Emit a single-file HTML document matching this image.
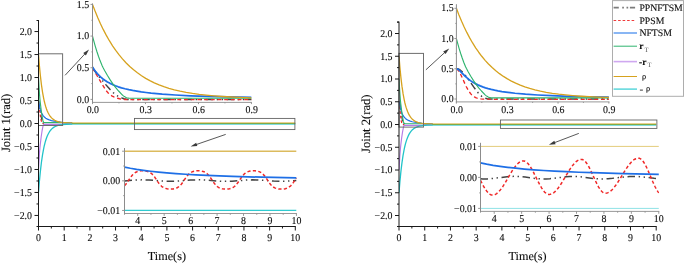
<!DOCTYPE html>
<html><head><meta charset="utf-8"><title>Joint tracking errors</title>
<style>
html,body{margin:0;padding:0;background:#fff;}
body{width:685px;height:263px;overflow:hidden;font-family:"Liberation Serif",serif;}
svg{display:block;}
svg text{font-family:"Liberation Serif",serif;fill:#0d0d0d;stroke:#0d0d0d;stroke-width:0.12px;text-rendering:geometricPrecision;filter:grayscale(1);}
</style></head><body>
<svg width="685" height="263" viewBox="0 0 685 263">
<defs><clipPath id="c0"><rect x="38.5" y="20.5" width="257.4" height="206"/></clipPath>
<clipPath id="c1"><rect x="92.5" y="2.4" width="159.2" height="100"/></clipPath>
<clipPath id="c2"><rect x="124.5" y="147" width="172.2" height="66.5"/></clipPath>
<clipPath id="c3"><rect x="399" y="22.1" width="257.8" height="204.4"/></clipPath>
<clipPath id="c4"><rect x="456.4" y="3.2" width="152.9" height="98.7"/></clipPath>
<clipPath id="c5"><rect x="480.5" y="141.8" width="178.6" height="69.6"/></clipPath></defs>
<g clip-path="url(#c0)" fill="none" stroke-linejoin="round">
<path d="M38.5,100.51L39.41,106.87L40.84,115.12L41.7,119.4L42.24,121.27L42.81,122.57L43.07,122.99L43.44,123.41L43.58,123.49L43.87,123.5" stroke="#444444" stroke-width="1.2" stroke-dasharray="5.25 2.52 0.98 2.52 0.98 2.52"/>
<path d="M38.5,100.51L40.33,115.95L40.59,117.72L41.01,119.92L41.53,121.53L41.84,122.17L42.24,122.79L42.67,123.23L43.07,123.53L43.87,123.63" stroke="#f02828" stroke-width="1.2" stroke-dasharray="2.73 1.96"/>
<path d="M38.5,99.96L39.01,103.68L39.61,106.91L40.3,109.64L41.1,111.98L42.01,113.93L43.1,115.62L44.33,116.99L45.78,118.17L47.41,119.12L49.3,119.91L51.5,120.57L54.07,121.12L56.38,121.49L59.04,121.81L59.07,121.87L60.61,122.18L63.27,122.53L67.07,122.8L72.21,122.95" stroke="#1e6fe6" stroke-width="1.2"/>
<path d="M38.5,77.53L39.41,92.85L39.9,99.02L40.33,103.18L41.19,110.21L42.01,115.79L42.93,120.67L43.27,121.81L43.56,122.45L43.84,122.64L44.56,122.67L61.41,122.69L63.69,122.84L69.35,123.4L72.21,123.5" stroke="#2fb46e" stroke-width="1.15"/>
<path d="M38.5,169.47L39.41,154.15L39.9,147.98L40.33,143.82L41.19,136.79L42.01,131.21L42.93,126.33L43.27,125.19L43.56,124.55L43.84,124.36L44.56,124.33L61.41,124.31L63.69,124.16L69.35,123.6L72.21,123.5" stroke="#b57be6" stroke-width="1.15"/>
<path d="M38.5,54.54L39.41,65.87L40.39,75.86L41.44,84.76L42.56,92.33L43.76,98.82L44.41,101.77L45.07,104.36L45.76,106.73L46.5,108.96L47.27,110.95L48.1,112.78L48.9,114.28L49.73,115.61L50.61,116.8L51.55,117.86L52.55,118.79L53.64,119.61L54.78,120.31L56.04,120.91L57.35,121.4L58.78,121.8L60.35,122.13L62.12,122.4L66.49,122.77L72.21,122.95" stroke="#d6a21e" stroke-width="1.3"/>
<path d="M38.5,192.46L39.41,181.13L40.39,171.14L41.44,162.24L42.56,154.67L43.76,148.18L44.41,145.23L45.07,142.64L45.76,140.27L46.5,138.04L47.27,136.05L48.1,134.22L48.9,132.72L49.73,131.39L50.61,130.2L51.55,129.14L52.55,128.21L53.64,127.39L54.78,126.69L56.04,126.09L57.35,125.6L58.78,125.2L60.35,124.87L62.12,124.6L66.49,124.23L72.21,124.05" stroke="#22c3c9" stroke-width="1.3"/>
<path d="M71.88,124.15 L295.3,124.15" stroke="#22c3c9" stroke-width="0.9"/>
<path d="M71.88,123.5 L295.3,123.5" stroke="#2fb46e" stroke-width="1"/>
<path d="M71.88,123 L295.3,123" stroke="#d6a21e" stroke-width="1"/>
</g>
<rect x="38.5" y="53.8" width="24.1" height="71.7" fill="none" stroke="#6e6e6e" stroke-width="1"/>
<rect x="134.5" y="118.4" width="160.4" height="11.2" fill="none" stroke="#5c5c5c" stroke-width="0.85"/>
<line x1="38.5" y1="20" x2="38.5" y2="227" stroke="#1a1a1a" stroke-width="1"/>
<line x1="38" y1="226.5" x2="295.8" y2="226.5" stroke="#1a1a1a" stroke-width="1"/>
<line x1="36.5" y1="226.5" x2="38.5" y2="226.5" stroke="#1a1a1a" stroke-width="1"/>
<line x1="34.5" y1="215.45" x2="38.5" y2="215.45" stroke="#1a1a1a" stroke-width="1"/>
<text transform="translate(32,218.75) scale(0.94,1)" font-size="10.5" text-anchor="end">−2.0</text>
<line x1="34.5" y1="192.46" x2="38.5" y2="192.46" stroke="#1a1a1a" stroke-width="1"/>
<text transform="translate(32,195.76) scale(0.94,1)" font-size="10.5" text-anchor="end">−1.5</text>
<line x1="34.5" y1="169.47" x2="38.5" y2="169.47" stroke="#1a1a1a" stroke-width="1"/>
<text transform="translate(32,172.78) scale(0.94,1)" font-size="10.5" text-anchor="end">−1.0</text>
<line x1="34.5" y1="146.49" x2="38.5" y2="146.49" stroke="#1a1a1a" stroke-width="1"/>
<text transform="translate(32,149.79) scale(0.94,1)" font-size="10.5" text-anchor="end">−0.5</text>
<line x1="34.5" y1="123.5" x2="38.5" y2="123.5" stroke="#1a1a1a" stroke-width="1"/>
<text transform="translate(32,126.8) scale(0.94,1)" font-size="10.5" text-anchor="end">0.0</text>
<line x1="34.5" y1="100.51" x2="38.5" y2="100.51" stroke="#1a1a1a" stroke-width="1"/>
<text transform="translate(32,103.81) scale(0.94,1)" font-size="10.5" text-anchor="end">0.5</text>
<line x1="34.5" y1="77.53" x2="38.5" y2="77.53" stroke="#1a1a1a" stroke-width="1"/>
<text transform="translate(32,80.83) scale(0.94,1)" font-size="10.5" text-anchor="end">1.0</text>
<line x1="34.5" y1="54.54" x2="38.5" y2="54.54" stroke="#1a1a1a" stroke-width="1"/>
<text transform="translate(32,57.84) scale(0.94,1)" font-size="10.5" text-anchor="end">1.5</text>
<line x1="34.5" y1="31.55" x2="38.5" y2="31.55" stroke="#1a1a1a" stroke-width="1"/>
<text transform="translate(32,34.85) scale(0.94,1)" font-size="10.5" text-anchor="end">2.0</text>
<line x1="36.5" y1="203.96" x2="38.5" y2="203.96" stroke="#1a1a1a" stroke-width="1"/>
<line x1="36.5" y1="180.97" x2="38.5" y2="180.97" stroke="#1a1a1a" stroke-width="1"/>
<line x1="36.5" y1="157.98" x2="38.5" y2="157.98" stroke="#1a1a1a" stroke-width="1"/>
<line x1="36.5" y1="134.99" x2="38.5" y2="134.99" stroke="#1a1a1a" stroke-width="1"/>
<line x1="36.5" y1="112.01" x2="38.5" y2="112.01" stroke="#1a1a1a" stroke-width="1"/>
<line x1="36.5" y1="89.02" x2="38.5" y2="89.02" stroke="#1a1a1a" stroke-width="1"/>
<line x1="36.5" y1="66.03" x2="38.5" y2="66.03" stroke="#1a1a1a" stroke-width="1"/>
<line x1="36.5" y1="43.04" x2="38.5" y2="43.04" stroke="#1a1a1a" stroke-width="1"/>
<line x1="36.5" y1="20.5" x2="38.5" y2="20.5" stroke="#1a1a1a" stroke-width="1"/>
<line x1="38.5" y1="226.5" x2="38.5" y2="230.5" stroke="#1a1a1a" stroke-width="1"/>
<text transform="translate(38.5,240.9) scale(0.94,1)" font-size="10.5" text-anchor="middle">0</text>
<line x1="64.18" y1="226.5" x2="64.18" y2="230.5" stroke="#1a1a1a" stroke-width="1"/>
<text transform="translate(64.18,240.9) scale(0.94,1)" font-size="10.5" text-anchor="middle">1</text>
<line x1="89.86" y1="226.5" x2="89.86" y2="230.5" stroke="#1a1a1a" stroke-width="1"/>
<text transform="translate(89.86,240.9) scale(0.94,1)" font-size="10.5" text-anchor="middle">2</text>
<line x1="115.54" y1="226.5" x2="115.54" y2="230.5" stroke="#1a1a1a" stroke-width="1"/>
<text transform="translate(115.54,240.9) scale(0.94,1)" font-size="10.5" text-anchor="middle">3</text>
<line x1="141.22" y1="226.5" x2="141.22" y2="230.5" stroke="#1a1a1a" stroke-width="1"/>
<text transform="translate(141.22,240.9) scale(0.94,1)" font-size="10.5" text-anchor="middle">4</text>
<line x1="166.9" y1="226.5" x2="166.9" y2="230.5" stroke="#1a1a1a" stroke-width="1"/>
<text transform="translate(166.9,240.9) scale(0.94,1)" font-size="10.5" text-anchor="middle">5</text>
<line x1="192.58" y1="226.5" x2="192.58" y2="230.5" stroke="#1a1a1a" stroke-width="1"/>
<text transform="translate(192.58,240.9) scale(0.94,1)" font-size="10.5" text-anchor="middle">6</text>
<line x1="218.26" y1="226.5" x2="218.26" y2="230.5" stroke="#1a1a1a" stroke-width="1"/>
<text transform="translate(218.26,240.9) scale(0.94,1)" font-size="10.5" text-anchor="middle">7</text>
<line x1="243.94" y1="226.5" x2="243.94" y2="230.5" stroke="#1a1a1a" stroke-width="1"/>
<text transform="translate(243.94,240.9) scale(0.94,1)" font-size="10.5" text-anchor="middle">8</text>
<line x1="269.62" y1="226.5" x2="269.62" y2="230.5" stroke="#1a1a1a" stroke-width="1"/>
<text transform="translate(269.62,240.9) scale(0.94,1)" font-size="10.5" text-anchor="middle">9</text>
<line x1="295.3" y1="226.5" x2="295.3" y2="230.5" stroke="#1a1a1a" stroke-width="1"/>
<text transform="translate(295.3,240.9) scale(0.94,1)" font-size="10.5" text-anchor="middle">10</text>
<line x1="51.34" y1="226.5" x2="51.34" y2="228.5" stroke="#1a1a1a" stroke-width="1"/>
<line x1="77.02" y1="226.5" x2="77.02" y2="228.5" stroke="#1a1a1a" stroke-width="1"/>
<line x1="102.7" y1="226.5" x2="102.7" y2="228.5" stroke="#1a1a1a" stroke-width="1"/>
<line x1="128.38" y1="226.5" x2="128.38" y2="228.5" stroke="#1a1a1a" stroke-width="1"/>
<line x1="154.06" y1="226.5" x2="154.06" y2="228.5" stroke="#1a1a1a" stroke-width="1"/>
<line x1="179.74" y1="226.5" x2="179.74" y2="228.5" stroke="#1a1a1a" stroke-width="1"/>
<line x1="205.42" y1="226.5" x2="205.42" y2="228.5" stroke="#1a1a1a" stroke-width="1"/>
<line x1="231.1" y1="226.5" x2="231.1" y2="228.5" stroke="#1a1a1a" stroke-width="1"/>
<line x1="256.78" y1="226.5" x2="256.78" y2="228.5" stroke="#1a1a1a" stroke-width="1"/>
<line x1="282.46" y1="226.5" x2="282.46" y2="228.5" stroke="#1a1a1a" stroke-width="1"/>
<text x="166.9" y="259.6" font-size="12.2" text-anchor="middle">Time(s)</text>
<text transform="translate(9.9,122.9) rotate(-90)" font-size="12.6" text-anchor="middle">Joint 1(rad)</text>
<g clip-path="url(#c1)" fill="none" stroke-linejoin="round">
<path d="M92.5,67.74L95.69,72.45L98.55,76.21L102.37,80.51L106.2,85.12L108.11,87.3L110.34,89.7L113.52,92.87L114.8,94L116.07,94.96L117.66,95.99L119.26,96.87L121.17,97.73L122.76,98.34L124.03,98.72L126.26,99.23L127.86,99.4L251.44,99.4" stroke="#444444" stroke-width="1.5" stroke-dasharray="7.5 3.6 1.4 3.6 1.4 3.6"/>
<path d="M92.5,67.74L96.96,75.51L101.74,83.61L105.24,89.26L106.2,90.64L107.15,91.8L108.43,93.18L109.7,94.39L110.97,95.38L112.25,96.14L113.84,96.93L115.43,97.56L117.66,98.27L119.57,98.74L122.76,99.3L124.67,99.5L133.91,99.62L251.44,99.65" stroke="#f02828" stroke-width="1.35" stroke-dasharray="3.9 2.8"/>
<path d="M92.5,66.98L94.09,69.47L95.69,71.66L97.28,73.59L99.19,75.62L101.1,77.39L103.01,78.96L105.24,80.56L107.47,81.95L110.02,83.35L112.57,84.57L115.43,85.76L118.3,86.8L121.49,87.8L124.99,88.76L128.81,89.67L132.63,90.45L136.77,91.18L141.23,91.87L146.01,92.5L151.11,93.09L162.26,94.11L175.31,95L190.28,95.76L207.8,96.4L227.87,96.94L251.44,97.4" stroke="#1e6fe6" stroke-width="1.75"/>
<path d="M92.5,36.07L93.77,40.94L95.37,46.59L96.96,51.77L98.55,56.51L100.14,60.84L102.06,65.53L103.01,67.57L104.6,70.57L107.47,75.55L110.34,80.14L113.2,84.32L115.75,87.67L118.62,91.02L122.44,95.04L123.4,95.86L124.03,96.31L125.63,97.26L126.58,97.72L127.54,98.02L128.81,98.19L132.95,98.25L251.44,98.26" stroke="#2fb46e" stroke-width="1.15"/>
<path d="M92.5,4.41L95.05,11.07L97.91,18.02L100.46,23.72L103.33,29.66L106.2,35.13L109.38,40.7L112.57,45.79L115.75,50.43L118.94,54.66L122.44,58.89L125.94,62.71L129.77,66.46L133.59,69.83L137.41,72.84L141.55,75.75L145.69,78.34L149.83,80.63L154.29,82.81L159.07,84.86L163.85,86.65L168.94,88.3L174.36,89.81L180.09,91.17L186.14,92.39L192.51,93.45L199.2,94.38L206.21,95.18L213.85,95.89L222.14,96.5L231.05,97.01L240.61,97.43L251.44,97.79" stroke="#d6a21e" stroke-width="1.3"/>
</g>
<line x1="92.5" y1="3.4" x2="92.5" y2="102.9" stroke="#8c8c8c" stroke-width="1"/>
<line x1="92" y1="102.4" x2="251.9" y2="102.4" stroke="#8c8c8c" stroke-width="0.9"/>
<line x1="90.5" y1="99.4" x2="92.5" y2="99.4" stroke="#8c8c8c" stroke-width="0.9"/>
<text transform="translate(89.2,102.7) scale(0.94,1)" font-size="10.5" text-anchor="end">0.0</text>
<line x1="90.5" y1="67.74" x2="92.5" y2="67.74" stroke="#8c8c8c" stroke-width="0.9"/>
<text transform="translate(89.2,71.04) scale(0.94,1)" font-size="10.5" text-anchor="end">0.5</text>
<line x1="90.5" y1="36.07" x2="92.5" y2="36.07" stroke="#8c8c8c" stroke-width="0.9"/>
<text transform="translate(89.2,39.37) scale(0.94,1)" font-size="10.5" text-anchor="end">1.0</text>
<line x1="90.5" y1="4.41" x2="92.5" y2="4.41" stroke="#8c8c8c" stroke-width="0.9"/>
<text transform="translate(89.2,7.71) scale(0.94,1)" font-size="10.5" text-anchor="end">1.5</text>
<line x1="91.4" y1="83.57" x2="92.5" y2="83.57" stroke="#8c8c8c" stroke-width="0.9"/>
<line x1="91.4" y1="51.9" x2="92.5" y2="51.9" stroke="#8c8c8c" stroke-width="0.9"/>
<line x1="91.4" y1="20.24" x2="92.5" y2="20.24" stroke="#8c8c8c" stroke-width="0.9"/>
<line x1="92.5" y1="102.4" x2="92.5" y2="104.1" stroke="#8c8c8c" stroke-width="0.9"/>
<text transform="translate(92.8,113.3) scale(0.94,1)" font-size="10.5" text-anchor="middle">0.0</text>
<line x1="145.48" y1="102.4" x2="145.48" y2="104.1" stroke="#8c8c8c" stroke-width="0.9"/>
<text transform="translate(145.78,113.3) scale(0.94,1)" font-size="10.5" text-anchor="middle">0.3</text>
<line x1="198.46" y1="102.4" x2="198.46" y2="104.1" stroke="#8c8c8c" stroke-width="0.9"/>
<text transform="translate(198.76,113.3) scale(0.94,1)" font-size="10.5" text-anchor="middle">0.6</text>
<line x1="251.44" y1="102.4" x2="251.44" y2="104.1" stroke="#8c8c8c" stroke-width="0.9"/>
<text transform="translate(251.74,113.3) scale(0.94,1)" font-size="10.5" text-anchor="middle">0.9</text>
<line x1="118.99" y1="102.4" x2="118.99" y2="103.4" stroke="#8c8c8c" stroke-width="0.9"/>
<line x1="171.97" y1="102.4" x2="171.97" y2="103.4" stroke="#8c8c8c" stroke-width="0.9"/>
<line x1="224.95" y1="102.4" x2="224.95" y2="103.4" stroke="#8c8c8c" stroke-width="0.9"/>
<g clip-path="url(#c2)" fill="none" stroke-linejoin="round">
<path d="M124.5,180.95L135.59,180.08L139.14,179.91L142.47,179.85L145.61,179.89L148.87,180.02L163.12,181.09L166.56,181.26L170,181.33L173.2,181.3L176.64,181.16L190.66,180.1L194.11,179.93L197.55,179.85L200.75,179.88L204.19,180.02L218.46,181.09L221.9,181.26L225.1,181.33L228.54,181.3L231.98,181.16L246,180.11L249.2,179.94L252.4,179.86L255.84,179.88L259.53,180.02L273.55,181.07L279.7,181.32L283.14,181.32L286.83,181.19L290.77,180.94L296.42,180.48" stroke="#444444" stroke-width="1.5" stroke-dasharray="7.5 3.6 1.4 3.6 1.4 3.6"/>
<path d="M124.5,185.74L125.64,184.53L126.81,183.04L130.25,177.9L131.46,176.22L132.64,174.82L133.81,173.68L134.64,173.02L135.47,172.47L136.38,171.99L137.33,171.6L138.35,171.28L139.45,171.04L140.62,170.87L141.83,170.78L144.37,170.82L145.58,170.96L146.71,171.18L147.73,171.45L148.72,171.81L149.63,172.25L150.5,172.77L151.31,173.36L152.05,174L153.52,175.58L155,177.54L157.7,181.62L158.93,183.36L160.41,185.14L161.64,186.32L162.38,186.89L163.36,187.52L164.1,187.9L165.08,188.3L167.05,188.82L168.28,189.01L169.51,189.1L171.97,189.07L173.2,188.93L174.43,188.7L175.66,188.35L176.64,187.97L177.63,187.47L178.36,187L179.84,185.8L181.32,184.19L182.79,182.21L186.48,176.72L187.71,175.18L188.94,173.91L190.42,172.76L191.15,172.31L192.14,171.83L193.12,171.47L194.11,171.19L196.32,170.84L197.55,170.77L199.03,170.78L200.5,170.9L201.73,171.09L202.96,171.4L203.94,171.74L204.93,172.2L205.91,172.78L206.9,173.51L207.63,174.18L209.11,175.81L210.59,177.81L213.05,181.54L214.27,183.29L215.5,184.81L216.73,186.06L217.47,186.67L218.46,187.34L219.19,187.75L220.18,188.19L221.16,188.52L222.15,188.76L224.36,189.07L225.59,189.12L227.06,189.09L228.29,188.97L229.52,188.77L230.75,188.45L231.74,188.1L232.72,187.64L233.71,187.04L235.18,185.85L236.66,184.26L238.13,182.29L241.82,176.8L243.05,175.24L244.28,173.96L245.76,172.79L247.23,171.97L248.96,171.34L250.68,170.97L252.15,170.81L253.63,170.76L255.1,170.82L256.58,170.99L257.81,171.25L259.04,171.63L260.27,172.17L261.25,172.74L262.24,173.47L262.97,174.12L264.45,175.74L265.93,177.73L269.62,183.21L270.85,184.75L271.83,185.78L273.3,186.99L274.78,187.85L276.5,188.5L278.47,188.93L279.95,189.08L281.42,189.12L282.9,189.06L284.13,188.91L285.36,188.67L286.59,188.31L287.57,187.91L288.55,187.39L289.54,186.73L290.28,186.13L291.01,185.42L292,184.33L293.47,182.37L296.42,177.93" stroke="#f02828" stroke-width="1.5" stroke-dasharray="3.2 2.3"/>
<path d="M124.5,167.1L130.33,168.26L136.61,169.34L143.34,170.33L150.61,171.25L158.44,172.1L166.8,172.88L175.91,173.6L185.5,174.25L195.83,174.84L207.14,175.4L219.44,175.92L232.48,176.38L261.99,177.19L296.42,177.87" stroke="#1e6fe6" stroke-width="1.7"/>
<path d="M124.5,151.2L296.42,151.21" stroke="#dcbb5e" stroke-width="1.5"/>
<path d="M124.5,210.46L296.42,210.46" stroke="#30cbd0" stroke-width="1.3"/>
</g>
<line x1="124.5" y1="148" x2="124.5" y2="214" stroke="#8c8c8c" stroke-width="1"/>
<line x1="124" y1="213.5" x2="296.9" y2="213.5" stroke="#8c8c8c" stroke-width="0.9"/>
<line x1="122.1" y1="210.46" x2="124.5" y2="210.46" stroke="#8c8c8c" stroke-width="0.9"/>
<text transform="translate(120.1,213.76) scale(0.94,1)" font-size="10.5" text-anchor="end">−0.01</text>
<line x1="122.1" y1="180.83" x2="124.5" y2="180.83" stroke="#8c8c8c" stroke-width="0.9"/>
<text transform="translate(120.1,184.13) scale(0.94,1)" font-size="10.5" text-anchor="end">0.00</text>
<line x1="122.1" y1="151.21" x2="124.5" y2="151.21" stroke="#8c8c8c" stroke-width="0.9"/>
<text transform="translate(120.1,154.51) scale(0.94,1)" font-size="10.5" text-anchor="end">0.01</text>
<line x1="123.2" y1="195.64" x2="124.5" y2="195.64" stroke="#8c8c8c" stroke-width="0.9"/>
<line x1="123.2" y1="166.02" x2="124.5" y2="166.02" stroke="#8c8c8c" stroke-width="0.9"/>
<line x1="137.72" y1="213.5" x2="137.72" y2="215.9" stroke="#8c8c8c" stroke-width="0.9"/>
<text transform="translate(137.72,224.2) scale(0.94,1)" font-size="10.5" text-anchor="middle">4</text>
<line x1="164.18" y1="213.5" x2="164.18" y2="215.9" stroke="#8c8c8c" stroke-width="0.9"/>
<text transform="translate(164.18,224.2) scale(0.94,1)" font-size="10.5" text-anchor="middle">5</text>
<line x1="190.62" y1="213.5" x2="190.62" y2="215.9" stroke="#8c8c8c" stroke-width="0.9"/>
<text transform="translate(190.62,224.2) scale(0.94,1)" font-size="10.5" text-anchor="middle">6</text>
<line x1="217.07" y1="213.5" x2="217.07" y2="215.9" stroke="#8c8c8c" stroke-width="0.9"/>
<text transform="translate(217.07,224.2) scale(0.94,1)" font-size="10.5" text-anchor="middle">7</text>
<line x1="243.52" y1="213.5" x2="243.52" y2="215.9" stroke="#8c8c8c" stroke-width="0.9"/>
<text transform="translate(243.52,224.2) scale(0.94,1)" font-size="10.5" text-anchor="middle">8</text>
<line x1="269.98" y1="213.5" x2="269.98" y2="215.9" stroke="#8c8c8c" stroke-width="0.9"/>
<text transform="translate(269.98,224.2) scale(0.94,1)" font-size="10.5" text-anchor="middle">9</text>
<line x1="296.42" y1="213.5" x2="296.42" y2="215.9" stroke="#8c8c8c" stroke-width="0.9"/>
<text transform="translate(296.42,224.2) scale(0.94,1)" font-size="10.5" text-anchor="middle">10</text>
<line x1="124.5" y1="213.5" x2="124.5" y2="214.8" stroke="#8c8c8c" stroke-width="0.9"/>
<line x1="150.95" y1="213.5" x2="150.95" y2="214.8" stroke="#8c8c8c" stroke-width="0.9"/>
<line x1="177.4" y1="213.5" x2="177.4" y2="214.8" stroke="#8c8c8c" stroke-width="0.9"/>
<line x1="203.85" y1="213.5" x2="203.85" y2="214.8" stroke="#8c8c8c" stroke-width="0.9"/>
<line x1="230.3" y1="213.5" x2="230.3" y2="214.8" stroke="#8c8c8c" stroke-width="0.9"/>
<line x1="256.75" y1="213.5" x2="256.75" y2="214.8" stroke="#8c8c8c" stroke-width="0.9"/>
<line x1="283.2" y1="213.5" x2="283.2" y2="214.8" stroke="#8c8c8c" stroke-width="0.9"/>
<line x1="65.1" y1="75.3" x2="85.26" y2="53.53" stroke="#3a3a3a" stroke-width="0.85"/>
<polygon points="89,49.5 85.9,55.49 83.26,53.05" fill="#3a3a3a"/>
<line x1="225.7" y1="134.4" x2="195.8" y2="144.71" stroke="#3a3a3a" stroke-width="0.85"/>
<polygon points="190.6,146.5 196.16,142.68 197.33,146.08" fill="#3a3a3a"/>
<g clip-path="url(#c3)" fill="none" stroke-linejoin="round">
<path d="M399,101.75L399.31,101.98L399.46,102.3L400.06,104.97L402.18,119.11L402.83,122.43L403.12,123.43L403.43,123.95L403.92,124.44L404.38,124.5" stroke="#444444" stroke-width="1.2" stroke-dasharray="5.25 2.52 0.98 2.52 0.98 2.52"/>
<path d="M399,101.75L399.26,102.83L399.46,104.21L400.52,115.38L401,119.43L401.32,121.28L401.83,123.16L402.06,123.73L402.26,124.04L402.66,124.4L402.98,124.57L404.38,124.65" stroke="#f02828" stroke-width="1.2" stroke-dasharray="2.73 1.96"/>
<path d="M399,101.75L399.17,101.96L399.4,102.72L400.4,107.66L401,110.18L401.6,112.17L402.29,113.95L403.18,115.7L404.21,117.19L405.38,118.43L406.75,119.5L408.33,120.38L410.19,121.13L412.33,121.75L414.88,122.27L417.08,122.6L419.63,122.89L422.06,123.33L424.09,123.57L427.9,123.82L432.76,123.96" stroke="#1e6fe6" stroke-width="1.2"/>
<path d="M399,79L399.92,94.16L400.4,100.28L400.83,104.39L401.69,111.35L402.52,116.87L403.43,121.69L403.78,122.83L404.06,123.46L404.35,123.65L405.07,123.68L421.94,123.7L424.23,123.85L429.9,124.4L432.76,124.5" stroke="#2fb46e" stroke-width="1.15"/>
<path d="M399,170L399.92,154.84L400.4,148.72L400.83,144.61L401.69,137.65L402.52,132.13L403.43,127.31L403.78,126.17L404.06,125.54L404.35,125.35L405.07,125.32L421.94,125.3L424.23,125.15L429.9,124.6L432.76,124.5" stroke="#b57be6" stroke-width="1.15"/>
<path d="M399,56.25L399.92,67.46L400.89,77.35L401.95,86.16L403.06,93.66L404.26,100.08L404.92,103L405.58,105.56L406.27,107.91L407.01,110.11L407.78,112.08L408.61,113.89L409.41,115.38L410.24,116.69L411.13,117.87L412.07,118.92L413.08,119.84L414.16,120.65L415.31,121.34L416.57,121.93L417.88,122.42L419.31,122.82L420.89,123.15L422.66,123.41L427.04,123.78L432.76,123.96" stroke="#d6a21e" stroke-width="1.3"/>
<path d="M399,192.75L399.92,181.54L400.89,171.65L401.95,162.84L403.06,155.34L404.26,148.92L404.92,146L405.58,143.44L406.27,141.09L407.01,138.89L407.78,136.92L408.61,135.11L409.41,133.62L410.24,132.31L411.13,131.13L412.07,130.08L413.08,129.16L414.16,128.35L415.31,127.66L416.57,127.07L417.88,126.58L419.31,126.18L420.89,125.85L422.66,125.59L427.04,125.22L432.76,125.04" stroke="#22c3c9" stroke-width="1.3"/>
<path d="M432.44,125.15 L656.2,125.15" stroke="#22c3c9" stroke-width="0.9"/>
<path d="M432.44,124.5 L656.2,124.5" stroke="#2fb46e" stroke-width="1"/>
<path d="M432.44,124 L656.2,124" stroke="#d6a21e" stroke-width="1"/>
</g>
<rect x="399" y="53.4" width="24.5" height="73.7" fill="none" stroke="#6e6e6e" stroke-width="1"/>
<rect x="500.4" y="120" width="156.5" height="8.4" fill="none" stroke="#5c5c5c" stroke-width="0.85"/>
<line x1="399" y1="21.6" x2="399" y2="227" stroke="#1a1a1a" stroke-width="1"/>
<line x1="398.5" y1="226.5" x2="656.7" y2="226.5" stroke="#1a1a1a" stroke-width="1"/>
<line x1="397" y1="226.5" x2="399" y2="226.5" stroke="#1a1a1a" stroke-width="1"/>
<line x1="395" y1="215.5" x2="399" y2="215.5" stroke="#1a1a1a" stroke-width="1"/>
<text transform="translate(392.5,218.8) scale(0.94,1)" font-size="10.5" text-anchor="end">−2.0</text>
<line x1="395" y1="192.75" x2="399" y2="192.75" stroke="#1a1a1a" stroke-width="1"/>
<text transform="translate(392.5,196.05) scale(0.94,1)" font-size="10.5" text-anchor="end">−1.5</text>
<line x1="395" y1="170" x2="399" y2="170" stroke="#1a1a1a" stroke-width="1"/>
<text transform="translate(392.5,173.3) scale(0.94,1)" font-size="10.5" text-anchor="end">−1.0</text>
<line x1="395" y1="147.25" x2="399" y2="147.25" stroke="#1a1a1a" stroke-width="1"/>
<text transform="translate(392.5,150.55) scale(0.94,1)" font-size="10.5" text-anchor="end">−0.5</text>
<line x1="395" y1="124.5" x2="399" y2="124.5" stroke="#1a1a1a" stroke-width="1"/>
<text transform="translate(392.5,127.8) scale(0.94,1)" font-size="10.5" text-anchor="end">0.0</text>
<line x1="395" y1="101.75" x2="399" y2="101.75" stroke="#1a1a1a" stroke-width="1"/>
<text transform="translate(392.5,105.05) scale(0.94,1)" font-size="10.5" text-anchor="end">0.5</text>
<line x1="395" y1="79" x2="399" y2="79" stroke="#1a1a1a" stroke-width="1"/>
<text transform="translate(392.5,82.3) scale(0.94,1)" font-size="10.5" text-anchor="end">1.0</text>
<line x1="395" y1="56.25" x2="399" y2="56.25" stroke="#1a1a1a" stroke-width="1"/>
<text transform="translate(392.5,59.55) scale(0.94,1)" font-size="10.5" text-anchor="end">1.5</text>
<line x1="395" y1="33.5" x2="399" y2="33.5" stroke="#1a1a1a" stroke-width="1"/>
<text transform="translate(392.5,36.8) scale(0.94,1)" font-size="10.5" text-anchor="end">2.0</text>
<line x1="397" y1="204.12" x2="399" y2="204.12" stroke="#1a1a1a" stroke-width="1"/>
<line x1="397" y1="181.38" x2="399" y2="181.38" stroke="#1a1a1a" stroke-width="1"/>
<line x1="397" y1="158.62" x2="399" y2="158.62" stroke="#1a1a1a" stroke-width="1"/>
<line x1="397" y1="135.88" x2="399" y2="135.88" stroke="#1a1a1a" stroke-width="1"/>
<line x1="397" y1="113.12" x2="399" y2="113.12" stroke="#1a1a1a" stroke-width="1"/>
<line x1="397" y1="90.38" x2="399" y2="90.38" stroke="#1a1a1a" stroke-width="1"/>
<line x1="397" y1="67.62" x2="399" y2="67.62" stroke="#1a1a1a" stroke-width="1"/>
<line x1="397" y1="44.88" x2="399" y2="44.88" stroke="#1a1a1a" stroke-width="1"/>
<line x1="397" y1="22.12" x2="399" y2="22.12" stroke="#1a1a1a" stroke-width="1"/>
<line x1="397" y1="22.1" x2="399" y2="22.1" stroke="#1a1a1a" stroke-width="1"/>
<line x1="399" y1="226.5" x2="399" y2="230.5" stroke="#1a1a1a" stroke-width="1"/>
<text transform="translate(399,240.9) scale(0.94,1)" font-size="10.5" text-anchor="middle">0</text>
<line x1="424.72" y1="226.5" x2="424.72" y2="230.5" stroke="#1a1a1a" stroke-width="1"/>
<text transform="translate(424.72,240.9) scale(0.94,1)" font-size="10.5" text-anchor="middle">1</text>
<line x1="450.44" y1="226.5" x2="450.44" y2="230.5" stroke="#1a1a1a" stroke-width="1"/>
<text transform="translate(450.44,240.9) scale(0.94,1)" font-size="10.5" text-anchor="middle">2</text>
<line x1="476.16" y1="226.5" x2="476.16" y2="230.5" stroke="#1a1a1a" stroke-width="1"/>
<text transform="translate(476.16,240.9) scale(0.94,1)" font-size="10.5" text-anchor="middle">3</text>
<line x1="501.88" y1="226.5" x2="501.88" y2="230.5" stroke="#1a1a1a" stroke-width="1"/>
<text transform="translate(501.88,240.9) scale(0.94,1)" font-size="10.5" text-anchor="middle">4</text>
<line x1="527.6" y1="226.5" x2="527.6" y2="230.5" stroke="#1a1a1a" stroke-width="1"/>
<text transform="translate(527.6,240.9) scale(0.94,1)" font-size="10.5" text-anchor="middle">5</text>
<line x1="553.32" y1="226.5" x2="553.32" y2="230.5" stroke="#1a1a1a" stroke-width="1"/>
<text transform="translate(553.32,240.9) scale(0.94,1)" font-size="10.5" text-anchor="middle">6</text>
<line x1="579.04" y1="226.5" x2="579.04" y2="230.5" stroke="#1a1a1a" stroke-width="1"/>
<text transform="translate(579.04,240.9) scale(0.94,1)" font-size="10.5" text-anchor="middle">7</text>
<line x1="604.76" y1="226.5" x2="604.76" y2="230.5" stroke="#1a1a1a" stroke-width="1"/>
<text transform="translate(604.76,240.9) scale(0.94,1)" font-size="10.5" text-anchor="middle">8</text>
<line x1="630.48" y1="226.5" x2="630.48" y2="230.5" stroke="#1a1a1a" stroke-width="1"/>
<text transform="translate(630.48,240.9) scale(0.94,1)" font-size="10.5" text-anchor="middle">9</text>
<line x1="656.2" y1="226.5" x2="656.2" y2="230.5" stroke="#1a1a1a" stroke-width="1"/>
<text transform="translate(656.2,240.9) scale(0.94,1)" font-size="10.5" text-anchor="middle">10</text>
<line x1="411.86" y1="226.5" x2="411.86" y2="228.5" stroke="#1a1a1a" stroke-width="1"/>
<line x1="437.58" y1="226.5" x2="437.58" y2="228.5" stroke="#1a1a1a" stroke-width="1"/>
<line x1="463.3" y1="226.5" x2="463.3" y2="228.5" stroke="#1a1a1a" stroke-width="1"/>
<line x1="489.02" y1="226.5" x2="489.02" y2="228.5" stroke="#1a1a1a" stroke-width="1"/>
<line x1="514.74" y1="226.5" x2="514.74" y2="228.5" stroke="#1a1a1a" stroke-width="1"/>
<line x1="540.46" y1="226.5" x2="540.46" y2="228.5" stroke="#1a1a1a" stroke-width="1"/>
<line x1="566.18" y1="226.5" x2="566.18" y2="228.5" stroke="#1a1a1a" stroke-width="1"/>
<line x1="591.9" y1="226.5" x2="591.9" y2="228.5" stroke="#1a1a1a" stroke-width="1"/>
<line x1="617.62" y1="226.5" x2="617.62" y2="228.5" stroke="#1a1a1a" stroke-width="1"/>
<line x1="643.34" y1="226.5" x2="643.34" y2="228.5" stroke="#1a1a1a" stroke-width="1"/>
<text x="527.6" y="259.6" font-size="12.2" text-anchor="middle">Time(s)</text>
<text transform="translate(369.9,123.7) rotate(-90)" font-size="12.6" text-anchor="middle">Joint 2(rad)</text>
<g clip-path="url(#c4)" fill="none" stroke-linejoin="round">
<path d="M456.4,68.77L457.32,68.84L458.54,69.09L459.46,69.52L460.07,69.96L460.98,70.75L462.51,72.15L463.43,73.11L465.57,75.69L469.54,81.02L473.82,87.16L476.57,90.86L478.09,92.79L479.31,94.11L481.76,96.35L483.29,97.44L483.9,97.75L484.51,97.96L487.26,98.67L488.79,98.91L490.31,99L608.86,99" stroke="#444444" stroke-width="1.5" stroke-dasharray="7.5 3.6 1.4 3.6 1.4 3.6"/>
<path d="M456.4,68.77L457.01,69.17L457.93,70.02L458.84,71.12L459.46,72.1L460.37,73.86L462.51,78.31L465.26,84.56L466.18,86.48L468.62,90.75L470.15,93.05L471.07,94.15L471.68,94.73L473.2,95.97L474.43,96.83L475.65,97.55L476.57,97.98L477.48,98.29L478.4,98.5L480.84,98.91L482.98,99.11L493.37,99.21L608.86,99.24" stroke="#f02828" stroke-width="1.35" stroke-dasharray="3.9 2.8"/>
<path d="M456.4,68.77L457.01,68.85L457.62,69.09L458.23,69.44L459.15,70.15L460.37,71.29L465.26,76.27L467.09,77.94L468.93,79.45L470.45,80.6L471.98,81.64L473.51,82.59L475.34,83.63L477.79,84.85L480.23,85.92L482.68,86.86L485.43,87.8L488.18,88.62L491.23,89.41L494.59,90.18L497.95,90.85L501.92,91.54L505.9,92.14L510.17,92.7L515.06,93.25L525.45,94.18L537.67,95L551.73,95.68L567.92,96.26L586.86,96.75L608.86,97.16" stroke="#1e6fe6" stroke-width="1.75"/>
<path d="M456.4,38.53L457.62,43.18L459.15,48.57L460.68,53.52L462.21,58.05L463.73,62.18L465.57,66.66L466.48,68.6L468.01,71.47L470.76,76.23L473.51,80.61L476.26,84.6L478.7,87.8L481.45,91L485.12,94.84L486.04,95.62L486.65,96.05L488.18,96.95L489.09,97.39L490.01,97.68L491.23,97.84L495.2,97.9L608.86,97.91" stroke="#2fb46e" stroke-width="1.15"/>
<path d="M456.4,8.3L458.84,14.66L461.59,21.29L464.04,26.74L466.79,32.41L469.54,37.63L472.59,42.95L475.65,47.81L478.7,52.24L481.76,56.28L485.12,60.32L488.48,63.97L492.15,67.55L495.81,70.76L499.48,73.64L503.45,76.42L507.42,78.89L511.4,81.08L515.67,83.16L520.26,85.12L524.84,86.82L529.73,88.4L534.92,89.84L540.42,91.14L546.23,92.3L552.34,93.32L558.75,94.21L565.47,94.97L572.81,95.65L580.75,96.23L589.31,96.72L598.47,97.12L608.86,97.46" stroke="#d6a21e" stroke-width="1.3"/>
</g>
<line x1="456.4" y1="4.2" x2="456.4" y2="102.4" stroke="#8c8c8c" stroke-width="1"/>
<line x1="455.9" y1="101.9" x2="609.5" y2="101.9" stroke="#8c8c8c" stroke-width="0.9"/>
<line x1="454.4" y1="99" x2="456.4" y2="99" stroke="#8c8c8c" stroke-width="0.9"/>
<text transform="translate(453.6,102) scale(0.94,1)" font-size="10.5" text-anchor="end">0.0</text>
<line x1="454.4" y1="68.77" x2="456.4" y2="68.77" stroke="#8c8c8c" stroke-width="0.9"/>
<text transform="translate(453.6,71.77) scale(0.94,1)" font-size="10.5" text-anchor="end">0.5</text>
<line x1="454.4" y1="38.53" x2="456.4" y2="38.53" stroke="#8c8c8c" stroke-width="0.9"/>
<text transform="translate(453.6,41.53) scale(0.94,1)" font-size="10.5" text-anchor="end">1.0</text>
<line x1="454.4" y1="8.3" x2="456.4" y2="8.3" stroke="#8c8c8c" stroke-width="0.9"/>
<text transform="translate(453.6,11.3) scale(0.94,1)" font-size="10.5" text-anchor="end">1.5</text>
<line x1="455.3" y1="83.88" x2="456.4" y2="83.88" stroke="#8c8c8c" stroke-width="0.9"/>
<line x1="455.3" y1="53.65" x2="456.4" y2="53.65" stroke="#8c8c8c" stroke-width="0.9"/>
<line x1="455.3" y1="23.41" x2="456.4" y2="23.41" stroke="#8c8c8c" stroke-width="0.9"/>
<line x1="456.4" y1="101.9" x2="456.4" y2="103.6" stroke="#8c8c8c" stroke-width="0.9"/>
<text transform="translate(456.7,112.8) scale(0.94,1)" font-size="10.5" text-anchor="middle">0.0</text>
<line x1="507.22" y1="101.9" x2="507.22" y2="103.6" stroke="#8c8c8c" stroke-width="0.9"/>
<text transform="translate(507.52,112.8) scale(0.94,1)" font-size="10.5" text-anchor="middle">0.3</text>
<line x1="558.04" y1="101.9" x2="558.04" y2="103.6" stroke="#8c8c8c" stroke-width="0.9"/>
<text transform="translate(558.34,112.8) scale(0.94,1)" font-size="10.5" text-anchor="middle">0.6</text>
<line x1="608.86" y1="101.9" x2="608.86" y2="103.6" stroke="#8c8c8c" stroke-width="0.9"/>
<text transform="translate(609.16,112.8) scale(0.94,1)" font-size="10.5" text-anchor="middle">0.9</text>
<line x1="481.81" y1="101.9" x2="481.81" y2="102.9" stroke="#8c8c8c" stroke-width="0.9"/>
<line x1="532.63" y1="101.9" x2="532.63" y2="102.9" stroke="#8c8c8c" stroke-width="0.9"/>
<line x1="583.45" y1="101.9" x2="583.45" y2="102.9" stroke="#8c8c8c" stroke-width="0.9"/>
<g clip-path="url(#c5)" fill="none" stroke-linejoin="round">
<path d="M480.5,178.81L482.82,178.92L485.09,178.95L487.52,178.89L490,178.75L494.71,178.29L503.42,177.14L507.07,176.72L510.85,176.42L514.68,176.32L518,176.39L521.31,176.63L525.14,177.07L535.6,178.48L539.17,178.8L542.48,178.94L546.05,178.91L549.88,178.69L553.96,178.29L562.38,177.24L565.95,176.86L569.78,176.58L573.6,176.47L576.92,176.55L580.23,176.8L583.55,177.17L593.5,178.5L596.56,178.78L599.62,178.93L603.7,178.91L608.04,178.69L612.63,178.28L621.55,177.26L625.64,176.85L629.72,176.58L633.8,176.47L637.62,176.55L641.71,176.84L645.53,177.25L654.2,178.33L658.79,178.75" stroke="#444444" stroke-width="1.5" stroke-dasharray="7.5 3.6 1.4 3.6 1.4 3.6"/>
<path d="M480.5,180.38L482.89,185.01L484.86,188.41L486.66,191.04L487.52,192.1L488.39,193.01L489.21,193.73L490.04,194.3L490.86,194.72L491.64,194.97L492.43,195.07L493.33,195.02L494.2,194.83L495.1,194.5L495.84,194.12L496.63,193.62L498.2,192.32L499.81,190.61L501.53,188.39L503.02,186.22L504.71,183.53L510.09,174.29L512.13,170.92L514.17,167.86L516.21,165.25L517.23,164.14L518.25,163.18L519.27,162.39L520.29,161.77L521.31,161.32L522.33,161.05L523.35,160.97L524.12,161.05L524.88,161.28L525.65,161.66L526.41,162.17L527.18,162.81L527.94,163.59L528.71,164.49L530.24,166.62L531.77,169.14L533.3,171.95L538.15,181.68L539.93,185.09L541.72,188.16L543.5,190.74L544.52,191.94L545.29,192.7L546.31,193.51L547.07,193.95L547.84,194.26L548.6,194.42L549.37,194.44L550.39,194.31L551.15,194.09L552.18,193.66L552.94,193.23L553.96,192.52L554.98,191.65L556,190.64L558.04,188.22L559.83,185.75L561.61,183L567.73,172.77L570.03,169.11L572.07,166.18L574.11,163.67L575.13,162.6L576.15,161.68L577.17,160.9L577.94,160.42L578.96,159.93L579.98,159.6L581,159.44L581.76,159.44L582.27,159.52L583.04,159.79L583.8,160.23L584.57,160.83L585.33,161.59L586.1,162.5L587.63,164.72L588.91,166.94L590.44,169.94L595.28,180.51L597.07,184.21L598.6,187.04L600.13,189.43L600.89,190.44L601.66,191.3L602.42,192.01L603.19,192.56L603.95,192.94L604.72,193.16L605.49,193.21L606.25,193.14L607.02,192.98L608.04,192.63L609.06,192.12L610.08,191.46L611.1,190.64L612.12,189.7L613.14,188.62L614.16,187.41L615.94,185.06L617.98,182.04L624.36,171.66L626.66,168.08L628.95,164.86L630.99,162.42L632.01,161.38L633.03,160.47L634.05,159.71L634.82,159.23L635.84,158.73L636.86,158.39L637.88,158.21L638.64,158.18L639.41,158.31L640.17,158.61L640.94,159.09L641.71,159.74L642.47,160.56L643.24,161.53L644.77,163.91L646.04,166.28L647.57,169.49L652.93,182.03L654.97,186.49L655.99,188.48L657.01,190.27L658.03,191.83L658.79,192.83" stroke="#f02828" stroke-width="1.5" stroke-dasharray="3.2 2.3"/>
<path d="M480.5,162.95L486.58,164.18L493.1,165.31L500.08,166.35L507.62,167.32L515.7,168.21L524.37,169.03L533.81,169.79L543.76,170.48L554.47,171.11L566.2,171.69L578.96,172.24L592.48,172.72L623.08,173.58L658.79,174.29" stroke="#1e6fe6" stroke-width="1.7"/>
<path d="M480.5,146.4L658.79,146.4" stroke="#e4cc7c" stroke-width="1"/>
<path d="M480.5,208.4L658.79,208.4" stroke="#8fe2e6" stroke-width="1"/>
</g>
<line x1="480.5" y1="142.8" x2="480.5" y2="211.9" stroke="#8c8c8c" stroke-width="1"/>
<line x1="480" y1="211.4" x2="659.3" y2="211.4" stroke="#8c8c8c" stroke-width="0.9"/>
<line x1="478.1" y1="208.4" x2="480.5" y2="208.4" stroke="#8c8c8c" stroke-width="0.9"/>
<text transform="translate(476.9,211.7) scale(0.94,1)" font-size="10.5" text-anchor="end">−0.01</text>
<line x1="478.1" y1="177.4" x2="480.5" y2="177.4" stroke="#8c8c8c" stroke-width="0.9"/>
<text transform="translate(476.9,180.7) scale(0.94,1)" font-size="10.5" text-anchor="end">0.00</text>
<line x1="478.1" y1="146.4" x2="480.5" y2="146.4" stroke="#8c8c8c" stroke-width="0.9"/>
<text transform="translate(476.9,149.7) scale(0.94,1)" font-size="10.5" text-anchor="end">0.01</text>
<line x1="479.2" y1="192.9" x2="480.5" y2="192.9" stroke="#8c8c8c" stroke-width="0.9"/>
<line x1="479.2" y1="161.9" x2="480.5" y2="161.9" stroke="#8c8c8c" stroke-width="0.9"/>
<line x1="494.21" y1="211.4" x2="494.21" y2="213.8" stroke="#8c8c8c" stroke-width="0.9"/>
<text transform="translate(494.21,221.8) scale(0.94,1)" font-size="10.5" text-anchor="middle">4</text>
<line x1="521.64" y1="211.4" x2="521.64" y2="213.8" stroke="#8c8c8c" stroke-width="0.9"/>
<text transform="translate(521.64,221.8) scale(0.94,1)" font-size="10.5" text-anchor="middle">5</text>
<line x1="549.08" y1="211.4" x2="549.08" y2="213.8" stroke="#8c8c8c" stroke-width="0.9"/>
<text transform="translate(549.08,221.8) scale(0.94,1)" font-size="10.5" text-anchor="middle">6</text>
<line x1="576.5" y1="211.4" x2="576.5" y2="213.8" stroke="#8c8c8c" stroke-width="0.9"/>
<text transform="translate(576.5,221.8) scale(0.94,1)" font-size="10.5" text-anchor="middle">7</text>
<line x1="603.93" y1="211.4" x2="603.93" y2="213.8" stroke="#8c8c8c" stroke-width="0.9"/>
<text transform="translate(603.93,221.8) scale(0.94,1)" font-size="10.5" text-anchor="middle">8</text>
<line x1="631.37" y1="211.4" x2="631.37" y2="213.8" stroke="#8c8c8c" stroke-width="0.9"/>
<text transform="translate(631.37,221.8) scale(0.94,1)" font-size="10.5" text-anchor="middle">9</text>
<line x1="658.79" y1="211.4" x2="658.79" y2="213.8" stroke="#8c8c8c" stroke-width="0.9"/>
<text transform="translate(658.79,221.8) scale(0.94,1)" font-size="10.5" text-anchor="middle">10</text>
<line x1="480.5" y1="211.4" x2="480.5" y2="212.7" stroke="#8c8c8c" stroke-width="0.9"/>
<line x1="507.93" y1="211.4" x2="507.93" y2="212.7" stroke="#8c8c8c" stroke-width="0.9"/>
<line x1="535.36" y1="211.4" x2="535.36" y2="212.7" stroke="#8c8c8c" stroke-width="0.9"/>
<line x1="562.79" y1="211.4" x2="562.79" y2="212.7" stroke="#8c8c8c" stroke-width="0.9"/>
<line x1="590.22" y1="211.4" x2="590.22" y2="212.7" stroke="#8c8c8c" stroke-width="0.9"/>
<line x1="617.65" y1="211.4" x2="617.65" y2="212.7" stroke="#8c8c8c" stroke-width="0.9"/>
<line x1="645.08" y1="211.4" x2="645.08" y2="212.7" stroke="#8c8c8c" stroke-width="0.9"/>
<line x1="425.9" y1="69.8" x2="445.15" y2="52.12" stroke="#3a3a3a" stroke-width="0.85"/>
<polygon points="449.2,48.4 445.63,54.12 443.2,51.47" fill="#3a3a3a"/>
<line x1="578.8" y1="133.4" x2="554.04" y2="142.84" stroke="#3a3a3a" stroke-width="0.85"/>
<polygon points="548.9,144.8 554.33,140.8 555.61,144.17" fill="#3a3a3a"/>
<rect x="612.5" y="0.6" width="71" height="95.7" fill="#fff" stroke="#adadad" stroke-width="1"/>
<line x1="613.6" y1="7.7" x2="637" y2="7.7" stroke="#7c7c7c" stroke-width="1.7" stroke-dasharray="5.2 3.4 1.7 2.6 1.7 1.7"/>
<text x="639.4" y="11" font-size="9.75" text-anchor="start">PPNFTSM</text>
<line x1="613.6" y1="20.5" x2="635" y2="20.5" stroke="#f03a3a" stroke-width="1.2" stroke-dasharray="2.6 1.9"/>
<text x="639.4" y="23.8" font-size="9.75" text-anchor="start">PPSM</text>
<line x1="613.6" y1="33" x2="637" y2="33" stroke="#4a8fee" stroke-width="1.3"/>
<text x="639.4" y="36.3" font-size="9.75" text-anchor="start">NFTSM</text>
<line x1="613.6" y1="46.2" x2="637" y2="46.2" stroke="#2fb46e" stroke-width="1"/>
<line x1="613.6" y1="61.6" x2="637" y2="61.6" stroke="#cfa8f0" stroke-width="1.6"/>
<line x1="613.6" y1="76.5" x2="637" y2="76.5" stroke="#d6a21e" stroke-width="1"/>
<line x1="613.6" y1="89.1" x2="637" y2="89.1" stroke="#4fd4d8" stroke-width="1.4"/>
<text x="639.3" y="49.2" font-size="9.5" font-weight="bold">r<tspan font-size="6.6" dy="2.5" dx="1.0" font-weight="normal" fill="#505050" stroke="none">T</tspan></text>
<text x="639.0" y="64.6" font-size="9.5" font-weight="bold">-r<tspan font-size="6.6" dy="2.5" dx="1.0" font-weight="normal" fill="#505050" stroke="none">T</tspan></text>
<text x="642.0" y="78.5" font-size="8.3">ρ</text>
<text x="645.9" y="91.1" font-size="8.3">ρ</text><line x1="639.9" y1="90.1" x2="642.9" y2="90.1" stroke="#222" stroke-width="0.9"/>
</svg>
</body></html>
